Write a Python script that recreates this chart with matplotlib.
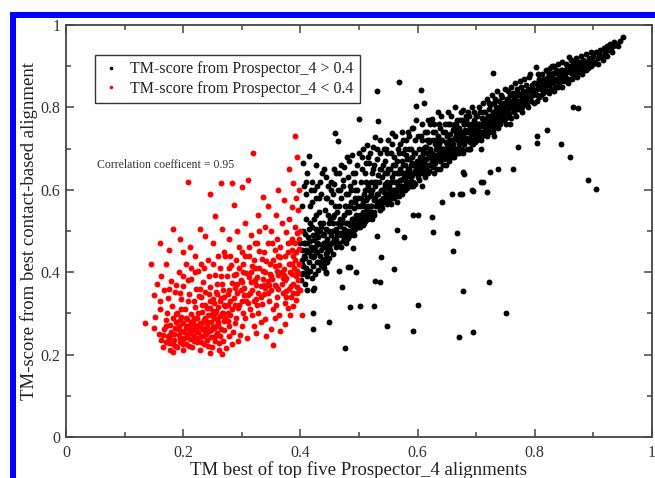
import matplotlib
matplotlib.use('Agg')
import matplotlib.pyplot as plt
from matplotlib.lines import Line2D
from matplotlib.patches import Rectangle
from matplotlib.ticker import FixedLocator, FixedFormatter, MultipleLocator

# TM-score pairs (x = Prospector_4 best of top five, y = contact-based)
red_pts = [
    (0.135,0.277),(0.158,0.251),(0.166,0.219),(0.183,0.207),(0.246,0.203),(0.266,0.201),(0.354,0.223),
    (0.150,0.265),(0.152,0.292),(0.160,0.310),(0.162,0.236),(0.168,0.262),(0.170,0.283),(0.172,0.300),(0.174,0.245),(0.176,0.228),(0.178,0.272),(0.180,0.256),(0.181,0.318),(0.183,0.290),
    (0.185,0.236),(0.186,0.264),(0.188,0.280),(0.189,0.218),(0.190,0.302),(0.192,0.248),(0.193,0.270),(0.195,0.230),(0.196,0.292),(0.197,0.258),(0.199,0.212),(0.200,0.276),(0.201,0.240),(0.203,0.310),(0.204,0.265),(0.205,0.226),(0.207,0.286),(0.208,0.250),(0.209,0.330),(0.211,0.272),
    (0.212,0.238),(0.213,0.298),(0.215,0.218),(0.216,0.260),(0.217,0.282),(0.219,0.246),(0.220,0.315),(0.221,0.268),(0.223,0.230),(0.224,0.290),(0.225,0.254),(0.227,0.342),(0.228,0.276),(0.229,0.212),(0.231,0.244),(0.232,0.304),(0.233,0.262),(0.235,0.226),(0.236,0.284),(0.237,0.320),
    (0.239,0.250),(0.240,0.270),(0.241,0.236),(0.243,0.296),(0.244,0.258),(0.245,0.330),(0.247,0.278),(0.248,0.242),(0.249,0.218),(0.251,0.306),(0.252,0.264),(0.253,0.288),(0.255,0.234),(0.256,0.352),(0.257,0.252),(0.259,0.272),(0.260,0.316),(0.261,0.228),(0.263,0.294),(0.264,0.262),
    (0.175,0.240),(0.182,0.226),(0.187,0.298),(0.194,0.284),(0.198,0.232),(0.202,0.256),(0.206,0.242),(0.210,0.220),(0.214,0.278),(0.218,0.234),(0.222,0.258),(0.226,0.300),(0.230,0.266),(0.234,0.246),(0.238,0.288),(0.242,0.222),(0.246,0.312),(0.250,0.268),(0.254,0.244),(0.258,0.286),
    (0.165,0.248),(0.171,0.270),(0.177,0.212),(0.184,0.250),(0.191,0.262),(0.197,0.310),(0.204,0.288),(0.211,0.252),(0.219,0.272),(0.226,0.240),(0.233,0.280),(0.241,0.258),(0.248,0.296),(0.256,0.270),(0.262,0.246),(0.268,0.232),(0.270,0.260),(0.273,0.216),(0.276,0.282),(0.279,0.244),
    (0.150,0.345),(0.155,0.372),(0.162,0.390),(0.168,0.356),(0.174,0.338),(0.180,0.378),(0.186,0.352),(0.192,0.400),(0.196,0.334),(0.200,0.366),(0.205,0.420),(0.210,0.346),(0.214,0.384),(0.218,0.330),(0.222,0.360),(0.226,0.402),(0.230,0.340),(0.234,0.376),(0.238,0.352),(0.242,0.430),
    (0.246,0.364),(0.250,0.336),(0.254,0.392),(0.258,0.348),(0.262,0.410),(0.266,0.372),(0.268,0.300),(0.270,0.340),(0.272,0.440),(0.274,0.390),(0.276,0.320),(0.278,0.358),(0.280,0.296),(0.282,0.418),(0.284,0.374),(0.286,0.338),(0.288,0.276),(0.290,0.396),(0.292,0.350),(0.294,0.312),
    (0.296,0.460),(0.298,0.380),(0.300,0.330),(0.302,0.420),(0.304,0.362),(0.306,0.290),(0.308,0.398),(0.310,0.344),(0.312,0.440),(0.314,0.310),(0.316,0.376),(0.318,0.356),(0.320,0.270),(0.322,0.410),(0.324,0.336),(0.326,0.388),(0.328,0.300),(0.330,0.452),(0.332,0.366),(0.334,0.322),
    (0.336,0.404),(0.338,0.346),(0.340,0.286),(0.342,0.428),(0.344,0.378),(0.346,0.330),(0.348,0.396),(0.350,0.356),(0.352,0.470),(0.354,0.310),(0.356,0.414),(0.358,0.366),(0.360,0.340),(0.362,0.392),(0.364,0.296),(0.366,0.436),(0.368,0.372),(0.370,0.350),(0.372,0.408),(0.374,0.326),
    (0.376,0.386),(0.378,0.448),(0.380,0.360),(0.382,0.420),(0.384,0.340),(0.386,0.396),(0.388,0.372),(0.390,0.430),(0.392,0.333),(0.394,0.404),(0.396,0.380),(0.398,0.456),(0.399,0.356),(0.397,0.420),(0.395,0.350),(0.393,0.390),(0.391,0.470),(0.389,0.410),(0.387,0.318),(0.385,0.480),
    (0.402,0.296),(0.383,0.296),(0.379,0.312),(0.373,0.274),(0.365,0.258),(0.357,0.290),(0.349,0.262),(0.341,0.244),(0.333,0.280),(0.325,0.252),(0.317,0.296),(0.309,0.240),(0.301,0.270),(0.293,0.232),(0.285,0.254),(0.277,0.300),(0.269,0.282),(0.261,0.212),(0.283,0.226),(0.297,0.248),
    (0.240,0.312),(0.252,0.326),(0.264,0.338),(0.276,0.346),(0.288,0.362),(0.300,0.376),(0.312,0.388),(0.324,0.370),(0.336,0.384),(0.348,0.420),(0.360,0.404),(0.372,0.392),(0.384,0.366),(0.396,0.398),(0.256,0.306),(0.268,0.356),(0.280,0.330),(0.292,0.372),(0.304,0.344),(0.316,0.400),
    (0.328,0.350),(0.340,0.362),(0.352,0.384),(0.364,0.418),(0.376,0.354),(0.388,0.440),(0.232,0.320),(0.244,0.346),(0.258,0.372),(0.272,0.318),(0.286,0.392),(0.298,0.358),(0.310,0.326),(0.322,0.380),(0.334,0.432),(0.346,0.368),(0.358,0.320),(0.370,0.386),(0.382,0.400),(0.394,0.364),
    (0.170,0.230),(0.178,0.248),(0.186,0.220),(0.194,0.240),(0.200,0.226),(0.206,0.270),(0.212,0.260),(0.218,0.290),(0.224,0.270),(0.230,0.230),(0.236,0.260),(0.242,0.280),(0.248,0.260),(0.254,0.300),(0.260,0.280),(0.266,0.300),(0.272,0.290),(0.278,0.270),(0.284,0.310),(0.290,0.290),
    (0.296,0.320),(0.302,0.300),(0.308,0.330),(0.314,0.350),(0.320,0.330),(0.326,0.320),(0.332,0.340),(0.338,0.370),(0.344,0.350),(0.350,0.390),(0.356,0.370),(0.362,0.360),(0.368,0.400),(0.374,0.380),(0.380,0.420),(0.386,0.420),(0.392,0.450),(0.398,0.420),(0.388,0.350),(0.376,0.340),
    (0.195,0.350),(0.208,0.380),(0.220,0.400),(0.236,0.410),(0.250,0.420),(0.264,0.390),(0.278,0.410),(0.290,0.430),(0.306,0.440),(0.320,0.430),(0.338,0.450),(0.354,0.430),(0.366,0.460),(0.378,0.470),(0.330,0.410),(0.302,0.400),(0.288,0.320),(0.270,0.320),(0.262,0.330),(0.228,0.360),
    (0.300,0.450),(0.312,0.460),(0.326,0.470),(0.344,0.470),(0.362,0.440),(0.374,0.440),(0.386,0.455),(0.398,0.480),(0.340,0.400),(0.318,0.415),(0.296,0.410),(0.280,0.440),(0.260,0.440),(0.244,0.390),(0.230,0.420),(0.214,0.410),(0.200,0.390),(0.188,0.370),(0.176,0.360),(0.160,0.330),
    (0.391,0.731),(0.319,0.690),(0.209,0.620),(0.246,0.591),(0.264,0.616),(0.283,0.616),(0.311,0.625),(0.300,0.606),(0.337,0.583),(0.362,0.600),(0.381,0.650),(0.388,0.616),(0.385,0.559),(0.286,0.563),(0.254,0.536),(0.183,0.504),(0.229,0.506),(0.266,0.505),(0.395,0.680),(0.398,0.600),
    (0.160,0.470),(0.175,0.455),(0.195,0.480),(0.212,0.462),(0.238,0.488),(0.250,0.470),(0.278,0.480),(0.292,0.500),(0.305,0.520),(0.315,0.490),(0.328,0.540),(0.340,0.510),(0.350,0.500),(0.358,0.540),(0.368,0.520),(0.375,0.498),(0.380,0.530),(0.390,0.510),(0.396,0.550),(0.399,0.500),
    (0.372,0.575),(0.345,0.560),(0.322,0.470),(0.270,0.450),(0.220,0.440),(0.200,0.450),(0.170,0.420),(0.145,0.420),(0.356,0.455),(0.384,0.474),(0.360,0.480),(0.392,0.580),(0.330,0.500),(0.394,0.495),
]

black_band = [
    (0.401,0.380),(0.402,0.420),(0.403,0.455),(0.404,0.398),(0.405,0.500),(0.406,0.440),(0.407,0.372),(0.408,0.470),(0.409,0.410),(0.410,0.530),(0.411,0.390),(0.412,0.450),(0.413,0.485),(0.414,0.425),(0.415,0.683),(0.416,0.402),(0.417,0.560),(0.418,0.462),(0.419,0.385),(0.420,0.510),
    (0.421,0.436),(0.422,0.415),(0.423,0.478),(0.424,0.600),(0.425,0.395),(0.426,0.540),(0.427,0.448),(0.428,0.425),(0.429,0.495),(0.430,0.405),(0.431,0.468),(0.432,0.580),(0.433,0.440),(0.434,0.520),(0.435,0.418),(0.436,0.455),(0.437,0.640),(0.438,0.490),(0.439,0.430),(0.440,0.410),
    (0.441,0.470),(0.442,0.550),(0.443,0.445),(0.444,0.505),(0.445,0.425),(0.446,0.480),(0.447,0.610),(0.448,0.460),(0.449,0.435),(0.450,0.530),
    (0.400,0.470),(0.403,0.560),(0.406,0.610),(0.404,0.665),(0.409,0.590),(0.412,0.640),(0.416,0.520),(0.419,0.570),(0.423,0.530),(0.427,0.660),(0.431,0.545),(0.435,0.590),(0.439,0.520),(0.443,0.580),(0.447,0.540),(0.405,0.415),(0.408,0.435),(0.413,0.400),(0.418,0.440),(0.428,0.470),
    (0.433,0.500),(0.438,0.460),(0.442,0.432),(0.446,0.450),(0.402,0.395),(0.407,0.492),(0.411,0.470),(0.415,0.448),(0.421,0.490),(0.425,0.460),(0.429,0.450),(0.437,0.415),(0.441,0.492),(0.445,0.468),(0.449,0.500),
    (0.403,0.430),(0.406,0.470),(0.410,0.455),(0.414,0.505),(0.417,0.475),(0.420,0.455),(0.424,0.440),(0.426,0.505),(0.430,0.485),(0.432,0.425),(0.436,0.510),(0.440,0.470),(0.444,0.460),(0.448,0.520),(0.419,0.620),(0.428,0.610),(0.444,0.630),
    (0.434,0.620),(0.426,0.580),(0.418,0.600),(0.410,0.620),(0.440,0.650),(0.446,0.580),
    (0.451,0.455),(0.452,0.490),(0.453,0.570),(0.454,0.470),(0.455,0.445),(0.456,0.520),(0.457,0.480),(0.458,0.650),(0.459,0.739),(0.460,0.505),(0.461,0.460),(0.462,0.545),(0.463,0.490),(0.464,0.600),(0.465,0.719),(0.466,0.470),(0.467,0.530),(0.468,0.512),(0.469,0.462),(0.470,0.580),
    (0.471,0.495),(0.472,0.475),(0.473,0.625),(0.474,0.540),(0.475,0.485),(0.476,0.560),(0.477,0.470),(0.478,0.520),(0.479,0.680),(0.480,0.500),(0.481,0.590),(0.482,0.482),(0.483,0.545),(0.484,0.610),(0.485,0.515),(0.486,0.490),(0.487,0.570),(0.488,0.530),(0.489,0.640),(0.490,0.498),
    (0.491,0.555),(0.492,0.520),(0.493,0.600),(0.494,0.505),(0.495,0.540),(0.496,0.660),(0.497,0.515),(0.498,0.580),(0.499,0.530),(0.500,0.773),
    (0.454,0.500),(0.458,0.540),(0.462,0.470),(0.466,0.560),(0.470,0.520),(0.474,0.490),(0.478,0.560),(0.482,0.520),(0.486,0.600),(0.490,0.530),(0.494,0.570),(0.498,0.510),(0.456,0.590),(0.464,0.520),(0.472,0.610),(0.480,0.545),(0.488,0.500),(0.496,0.600),
    (0.452,0.470),(0.455,0.535),(0.459,0.500),(0.463,0.470),(0.467,0.495),(0.471,0.530),(0.475,0.505),(0.479,0.480),(0.483,0.500),(0.487,0.515),(0.491,0.490),(0.495,0.515),(0.499,0.560),(0.459,0.560),(0.468,0.600),(0.477,0.590),(0.485,0.560),(0.493,0.580),(0.452,0.620),(0.461,0.640),
    (0.470,0.660),(0.483,0.670),(0.491,0.620),
    (0.452,0.600),(0.458,0.615),(0.466,0.640),(0.474,0.655),(0.482,0.630),(0.488,0.685),(0.494,0.640),(0.460,0.480),(0.470,0.490),(0.480,0.490),(0.490,0.510),
    (0.501,0.510),(0.502,0.560),(0.503,0.620),(0.504,0.530),(0.505,0.680),(0.506,0.545),(0.507,0.515),(0.508,0.590),(0.509,0.560),(0.510,0.640),(0.511,0.525),(0.512,0.575),(0.513,0.709),(0.514,0.550),(0.515,0.610),(0.516,0.530),(0.517,0.665),(0.518,0.585),(0.519,0.540),(0.520,0.620),
    (0.521,0.560),(0.522,0.530),(0.523,0.600),(0.524,0.650),(0.525,0.575),(0.526,0.545),(0.527,0.727),(0.528,0.610),(0.529,0.560),(0.530,0.590),(0.531,0.841),(0.532,0.635),(0.533,0.766),(0.534,0.570),(0.535,0.550),(0.536,0.690),(0.537,0.600),(0.538,0.575),(0.539,0.630),(0.540,0.555),
    (0.541,0.660),(0.542,0.595),(0.543,0.570),(0.544,0.615),(0.545,0.580),(0.546,0.700),(0.547,0.640),(0.548,0.565),(0.549,0.605),(0.550,0.721),
    (0.504,0.580),(0.510,0.600),(0.516,0.560),(0.522,0.640),(0.528,0.580),(0.534,0.620),(0.540,0.600),(0.546,0.590),(0.508,0.535),(0.514,0.580),(0.520,0.545),(0.526,0.620),(0.532,0.560),(0.538,0.650),(0.544,0.640),(0.548,0.620),
    (0.502,0.540),(0.506,0.570),(0.509,0.520),(0.513,0.545),(0.517,0.600),(0.521,0.590),(0.525,0.540),(0.529,0.620),(0.533,0.590),(0.537,0.560),(0.541,0.580),(0.545,0.610),(0.549,0.580),(0.505,0.650),(0.515,0.680),(0.525,0.660),(0.535,0.650),(0.545,0.670),(0.512,0.620),(0.530,0.700),
    (0.500,0.690),(0.506,0.700),(0.512,0.665),(0.518,0.690),(0.524,0.705),(0.530,0.675),(0.536,0.720),(0.542,0.700),(0.548,0.690),(0.500,0.520),(0.510,0.540),(0.520,0.560),(0.530,0.570),(0.540,0.575),
    (0.551,0.575),(0.552,0.610),(0.553,0.650),(0.554,0.590),(0.555,0.565),(0.556,0.739),(0.557,0.630),(0.558,0.600),(0.559,0.680),(0.560,0.580),(0.561,0.620),(0.562,0.660),(0.563,0.595),(0.564,0.570),(0.565,0.640),(0.566,0.700),(0.567,0.610),(0.568,0.585),(0.569,0.862),(0.570,0.650),
    (0.571,0.600),(0.572,0.625),(0.573,0.670),(0.574,0.590),(0.575,0.720),(0.576,0.640),(0.577,0.610),(0.578,0.660),(0.579,0.600),(0.580,0.685),(0.581,0.630),(0.582,0.605),(0.583,0.650),(0.584,0.740),(0.585,0.620),(0.586,0.675),(0.587,0.640),(0.588,0.610),(0.589,0.700),(0.590,0.749),
    (0.591,0.635),(0.592,0.660),(0.593,0.620),(0.594,0.690),(0.595,0.645),(0.596,0.615),(0.597,0.803),(0.598,0.769),(0.599,0.670),(0.600,0.640),
    (0.555,0.620),(0.560,0.640),(0.565,0.600),(0.570,0.625),(0.575,0.660),(0.580,0.620),(0.585,0.650),(0.590,0.665),(0.595,0.690),(0.558,0.660),(0.568,0.640),(0.578,0.700),(0.588,0.630),(0.598,0.650),(0.562,0.585),(0.572,0.610),(0.582,0.675),(0.592,0.640),
    (0.553,0.600),(0.557,0.580),(0.561,0.600),(0.565,0.620),(0.569,0.600),(0.573,0.640),(0.577,0.630),(0.581,0.610),(0.585,0.640),(0.589,0.660),(0.593,0.610),(0.597,0.640),(0.555,0.690),(0.565,0.670),(0.575,0.690),(0.585,0.700),(0.595,0.720),(0.550,0.650),(0.570,0.710),(0.590,0.680),
    (0.556,0.710),(0.562,0.730),(0.568,0.690),(0.574,0.740),(0.580,0.720),(0.586,0.730),(0.592,0.750),(0.550,0.590),(0.560,0.600),(0.570,0.610),(0.580,0.640),(0.590,0.620),
    (0.601,0.660),(0.602,0.700),(0.603,0.625),(0.604,0.680),(0.605,0.842),(0.606,0.650),(0.607,0.720),(0.608,0.640),(0.609,0.690),(0.610,0.660),(0.611,0.810),(0.612,0.630),(0.613,0.705),(0.614,0.675),(0.615,0.650),(0.616,0.740),(0.617,0.690),(0.618,0.660),(0.619,0.715),(0.620,0.645),
    (0.621,0.680),(0.622,0.700),(0.623,0.660),(0.624,0.773),(0.625,0.690),(0.626,0.655),(0.627,0.720),(0.628,0.680),(0.629,0.740),(0.630,0.665),(0.631,0.700),(0.632,0.685),(0.633,0.650),(0.634,0.730),(0.635,0.790),(0.636,0.690),(0.637,0.710),(0.638,0.670),(0.639,0.750),(0.640,0.700),
    (0.641,0.680),(0.642,0.720),(0.643,0.660),(0.644,0.740),(0.645,0.700),(0.646,0.690),(0.647,0.760),(0.648,0.715),(0.649,0.680),(0.650,0.730),
    (0.605,0.670),(0.610,0.700),(0.615,0.690),(0.620,0.720),(0.625,0.670),(0.630,0.710),(0.635,0.680),(0.640,0.720),(0.645,0.675),(0.650,0.700),(0.608,0.610),(0.618,0.640),(0.628,0.640),(0.638,0.650),(0.648,0.660),(0.612,0.740),(0.622,0.760),(0.632,0.720),(0.642,0.700),
    (0.603,0.650),(0.607,0.680),(0.611,0.665),(0.615,0.705),(0.619,0.680),(0.623,0.690),(0.627,0.660),(0.631,0.680),(0.635,0.700),(0.639,0.680),(0.643,0.700),(0.647,0.690),(0.606,0.730),(0.616,0.720),(0.626,0.740),(0.636,0.760),(0.646,0.740),
    (0.600,0.730),(0.608,0.760),(0.618,0.770),(0.628,0.760),(0.640,0.780),(0.600,0.630),(0.610,0.640),(0.620,0.660),(0.630,0.670),(0.640,0.690),
    (0.651,0.690),(0.652,0.760),(0.653,0.710),(0.654,0.670),(0.655,0.735),(0.656,0.700),(0.657,0.780),(0.658,0.720),(0.659,0.690),(0.660,0.745),(0.661,0.710),(0.662,0.680),(0.663,0.760),(0.664,0.725),(0.665,0.700),(0.666,0.740),(0.667,0.690),(0.668,0.770),(0.669,0.730),(0.670,0.710),
    (0.671,0.750),(0.672,0.700),(0.673,0.725),(0.674,0.790),(0.675,0.740),(0.676,0.715),(0.677,0.794),(0.678,0.730),(0.679,0.760),(0.680,0.710),(0.681,0.745),(0.682,0.725),(0.683,0.770),(0.684,0.700),(0.685,0.740),(0.686,0.760),(0.687,0.720),(0.688,0.780),(0.689,0.745),(0.690,0.715),
    (0.691,0.760),(0.692,0.735),(0.693,0.800),(0.694,0.720),(0.695,0.750),(0.696,0.770),(0.697,0.740),(0.698,0.715),(0.699,0.780),(0.700,0.750),
    (0.655,0.720),(0.660,0.700),(0.665,0.730),(0.670,0.740),(0.675,0.700),(0.680,0.760),(0.685,0.720),(0.690,0.750),(0.695,0.730),(0.658,0.680),(0.668,0.700),(0.678,0.690),(0.688,0.700),(0.698,0.730),(0.662,0.750),(0.672,0.770),(0.682,0.780),(0.692,0.710),
    (0.651,0.710),(0.655,0.690),(0.659,0.710),(0.663,0.700),(0.667,0.720),(0.671,0.730),(0.675,0.720),(0.679,0.740),(0.683,0.720),(0.687,0.740),(0.691,0.730),(0.695,0.710),(0.699,0.760),(0.656,0.760),(0.666,0.760),(0.676,0.770),(0.686,0.790),(0.696,0.790),
    (0.652,0.790),(0.664,0.800),(0.650,0.680),(0.660,0.690),(0.670,0.690),(0.680,0.720),(0.690,0.700),
    (0.701,0.720),(0.702,0.780),(0.703,0.745),(0.704,0.800),(0.705,0.760),(0.706,0.730),(0.707,0.790),(0.708,0.755),(0.709,0.720),(0.710,0.775),(0.711,0.740),(0.712,0.810),(0.713,0.765),(0.714,0.735),(0.715,0.790),(0.716,0.760),(0.717,0.745),(0.718,0.820),(0.719,0.775),(0.720,0.750),
    (0.721,0.795),(0.722,0.765),(0.723,0.740),(0.724,0.805),(0.725,0.780),(0.726,0.755),(0.727,0.830),(0.728,0.790),(0.729,0.770),(0.730,0.750),(0.731,0.810),(0.732,0.780),(0.733,0.760),(0.734,0.800),(0.735,0.775),(0.736,0.840),(0.737,0.795),(0.738,0.765),(0.739,0.815),(0.740,0.785),
    (0.741,0.770),(0.742,0.805),(0.743,0.780),(0.744,0.825),(0.745,0.795),(0.746,0.770),(0.747,0.810),(0.748,0.790),(0.749,0.845),(0.750,0.800),
    (0.705,0.740),(0.710,0.760),(0.715,0.770),(0.720,0.780),(0.725,0.760),(0.730,0.790),(0.735,0.760),(0.740,0.800),(0.745,0.780),(0.708,0.700),(0.718,0.730),(0.728,0.740),(0.738,0.750),(0.748,0.770),(0.712,0.790),(0.722,0.810),(0.732,0.820),(0.742,0.830),
    (0.703,0.760),(0.707,0.740),(0.711,0.770),(0.715,0.750),(0.719,0.760),(0.723,0.780),(0.727,0.770),(0.731,0.760),(0.735,0.790),(0.739,0.770),(0.743,0.790),(0.747,0.800),
    (0.700,0.730),(0.710,0.730),(0.720,0.740),(0.730,0.730),(0.740,0.760),(0.750,0.760),
    (0.751,0.775),(0.752,0.820),(0.753,0.795),(0.754,0.840),(0.755,0.810),(0.756,0.785),(0.757,0.830),(0.758,0.800),(0.759,0.775),(0.760,0.850),(0.761,0.815),(0.762,0.795),(0.763,0.835),(0.764,0.810),(0.765,0.790),(0.766,0.860),(0.767,0.825),(0.768,0.800),(0.769,0.845),(0.770,0.815),
    (0.771,0.795),(0.772,0.835),(0.773,0.810),(0.774,0.865),(0.775,0.830),(0.776,0.805),(0.777,0.850),(0.778,0.820),(0.779,0.800),(0.780,0.840),(0.781,0.815),(0.782,0.870),(0.783,0.835),(0.784,0.810),(0.785,0.855),(0.786,0.825),(0.787,0.805),(0.788,0.845),(0.789,0.820),(0.790,0.875),
    (0.791,0.840),(0.793,0.815),(0.795,0.855),(0.797,0.830),(0.799,0.860),
    (0.755,0.790),(0.760,0.800),(0.765,0.820),(0.770,0.800),(0.775,0.815),(0.780,0.825),(0.785,0.830),(0.790,0.820),(0.795,0.835),(0.758,0.760),(0.768,0.780),(0.778,0.790),(0.788,0.800),(0.798,0.810),
    (0.751,0.790),(0.755,0.820),(0.759,0.810),(0.763,0.800),(0.767,0.810),(0.771,0.830),(0.775,0.800),(0.779,0.830),(0.783,0.820),(0.787,0.840),(0.791,0.825),(0.795,0.845),(0.799,0.840),
    (0.801,0.835),(0.802,0.860),(0.803,0.845),(0.805,0.880),(0.806,0.850),(0.807,0.825),(0.809,0.865),(0.810,0.845),(0.812,0.880),(0.813,0.855),(0.814,0.835),(0.816,0.870),(0.817,0.850),(0.819,0.890),(0.820,0.860),(0.821,0.840),(0.823,0.875),(0.824,0.855),(0.826,0.895),(0.827,0.865),
    (0.828,0.845),(0.830,0.880),(0.831,0.860),(0.833,0.900),(0.834,0.870),(0.835,0.850),(0.837,0.885),(0.838,0.865),(0.840,0.905),(0.841,0.875),(0.842,0.860),(0.844,0.890),(0.845,0.870),(0.847,0.910),(0.848,0.880),(0.849,0.865),
    (0.804,0.815),(0.811,0.830),(0.818,0.820),(0.825,0.835),(0.832,0.840),(0.839,0.850),(0.846,0.850),(0.808,0.870),(0.815,0.860),(0.822,0.885),(0.829,0.870),(0.836,0.890),(0.843,0.880),
    (0.803,0.830),(0.807,0.855),(0.811,0.860),(0.815,0.845),(0.819,0.870),(0.823,0.860),(0.827,0.880),(0.831,0.870),(0.835,0.865),(0.839,0.880),(0.843,0.865),(0.847,0.890),
    (0.851,0.890),(0.852,0.875),(0.854,0.905),(0.855,0.885),(0.857,0.870),(0.858,0.900),(0.860,0.885),(0.862,0.915),(0.863,0.895),(0.865,0.880),(0.866,0.905),(0.868,0.890),(0.870,0.920),(0.871,0.900),(0.873,0.885),(0.875,0.910),(0.876,0.895),(0.878,0.925),(0.880,0.905),(0.882,0.890),
    (0.883,0.915),(0.885,0.900),(0.887,0.930),(0.888,0.910),(0.890,0.895),(0.892,0.920),(0.894,0.905),(0.896,0.935),(0.898,0.915),(0.856,0.860),(0.864,0.870),(0.872,0.875),(0.880,0.880),(0.888,0.890),(0.896,0.900),
    (0.851,0.875),(0.855,0.895),(0.859,0.890),(0.863,0.880),(0.867,0.895),(0.871,0.890),(0.875,0.900),(0.879,0.895),(0.883,0.905),(0.887,0.900),(0.891,0.910),(0.895,0.915),(0.899,0.905),
    (0.900,0.925),(0.902,0.910),(0.905,0.935),(0.907,0.920),(0.910,0.930),(0.912,0.940),(0.915,0.925),(0.918,0.945),(0.920,0.935),(0.923,0.950),(0.925,0.940),(0.928,0.955),(0.930,0.945),(0.933,0.950),(0.936,0.958),(0.940,0.955),(0.945,0.962),(0.950,0.971),(0.908,0.905),(0.916,0.915),
    (0.924,0.925),(0.932,0.935),(0.942,0.948),
]

black_outliers = [
    (0.627,0.497),(0.667,0.494),(0.661,0.452),(0.537,0.438),(0.560,0.408),(0.527,0.379),(0.536,0.376),(0.471,0.364),(0.722,0.377),(0.677,0.355),
    (0.485,0.316),(0.502,0.318),(0.526,0.318),(0.600,0.321),(0.750,0.302),(0.422,0.302),(0.449,0.279),(0.422,0.262),(0.547,0.269),(0.593,0.258),
    (0.695,0.256),(0.671,0.243),(0.476,0.217),(0.466,0.402),(0.495,0.401),(0.481,0.412),(0.443,0.401),(0.441,0.421),(0.490,0.459),(0.565,0.502),
    (0.576,0.486),(0.531,0.488),(0.411,0.357),(0.422,0.358),(0.423,0.361),(0.624,0.535),(0.593,0.539),(0.601,0.539),(0.641,0.571),(0.658,0.591),
    (0.672,0.591),(0.692,0.600),(0.711,0.620),(0.678,0.642),(0.485,0.413),(0.444,0.397),
    (0.729,0.883),(0.821,0.745),(0.803,0.731),(0.803,0.713),(0.845,0.711),(0.860,0.680),(0.891,0.624),(0.904,0.602),(0.762,0.650),(0.771,0.705),
    (0.874,0.799),(0.865,0.800),(0.859,0.923),(0.867,0.910),(0.792,0.881),(0.802,0.897),(0.719,0.594),(0.709,0.620),(0.695,0.596),(0.738,0.650),
    (0.724,0.644),(0.675,0.591),(0.679,0.638),(0.829,0.900),(0.832,0.883),
]

tick_vals = [0, 0.2, 0.4, 0.6, 0.8, 1.0]
tick_labels = ['0', '0.2', '0.4', '0.6', '0.8', '1']

black_pts = black_band + black_outliers
bx = [p[0] for p in black_pts]
by = [p[1] for p in black_pts]
rx = [p[0] for p in red_pts]
ry = [p[1] for p in red_pts]

plt.rcParams['font.family'] = ['Liberation Serif', 'DejaVu Serif']

fig = plt.figure(figsize=(6.55, 4.78), dpi=100)
ax = fig.add_axes([66 / 655, 1 - 437 / 478, 586 / 655, 412 / 478])

ax.scatter(bx, by, s=18, c='black', linewidths=0, zorder=3)
ax.scatter(rx, ry, s=18, c='#ff0000', linewidths=0, zorder=3)

ax.set_xlim(0, 1)
ax.set_ylim(0, 1)
axis_col = '#444444'
for sp in ax.spines.values():
    sp.set_color(axis_col)
    sp.set_linewidth(1.3)

for axis in (ax.xaxis, ax.yaxis):
    axis.set_major_locator(FixedLocator(tick_vals))
    axis.set_major_formatter(FixedFormatter(tick_labels))
    axis.set_minor_locator(MultipleLocator(0.1))
ax.tick_params(which='both', direction='in', top=True, right=True, color=axis_col,
               labelcolor='#333333', labelsize=11.5, width=1.1)
ax.tick_params(which='major', length=6)
ax.tick_params(which='minor', length=3.5)
ax.tick_params(axis='x', which='major', pad=6)
ax.tick_params(axis='y', which='major', pad=4)

ax.set_xlabel('TM best of top five Prospector_4 alignments', fontsize=13.5, color='#222222', labelpad=0)
ax.set_ylabel('TM-score from best contact-based alignment', fontsize=13.5, color='#222222', labelpad=2)

ax.text(0.053, 0.66, 'Correlation coefficent = 0.95', fontsize=8.5, color='#333333',
        va='center', ha='left', transform=ax.transData)

handles = [
    Line2D([], [], ls='none', marker='o', ms=2.6, mfc='black', mec='none'),
    Line2D([], [], ls='none', marker='o', ms=2.6, mfc='#ff0000', mec='none'),
]
leg = ax.legend(handles, ['TM-score from Prospector_4 > 0.4', 'TM-score from Prospector_4 < 0.4'],
                loc='upper left', bbox_to_anchor=(0.0495, 0.927), borderaxespad=0,
                fancybox=False, framealpha=1, edgecolor='#333333', fontsize=11.5,
                handletextpad=0.6, handlelength=1.2, borderpad=0.4, labelspacing=0.2)
leg.get_frame().set_linewidth(1.0)
for t in leg.get_texts():
    t.set_color('#222222')

# blue frame, its right and bottom edges fall outside the picture
fig.patches.append(Rectangle((13 / 655, -0.5), 2, (1 - 14.5 / 478) + 0.5, transform=fig.transFigure,
                             fill=False, edgecolor='#0000ff', linewidth=4.3, clip_on=False))

fig.savefig('out.png', dpi=100)
